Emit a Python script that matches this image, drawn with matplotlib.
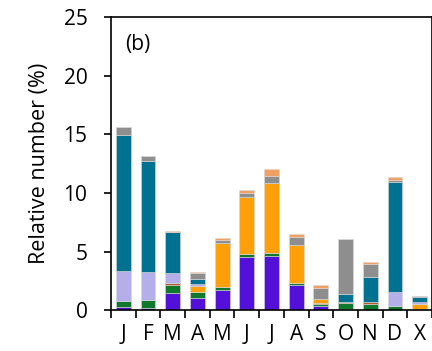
import numpy as np
import matplotlib.pyplot as plt

plt.rcParams['font.family'] = ['Open Sans', 'DejaVu Sans']

# Monthly relative numbers (%) per type, stacked bottom to top
months = ["J", "F", "M", "A", "M", "J", "J", "A", "S", "O", "N", "D", "X"]
purple = [0.34, 0.20, 1.50, 1.10, 1.74, 4.52, 4.63, 2.17, 0.35, 0.10, 0.00, 0.00, 0.00]
green = [0.50, 0.70, 0.65, 0.45, 0.28, 0.25, 0.23, 0.20, 0.20, 0.50, 0.57, 0.37, 0.08]
brown = [0.00, 0.00, 0.15, 0.00, 0.00, 0.00, 0.00, 0.00, 0.12, 0.12, 0.14, 0.00, 0.08]
orange = [0.00, 0.00, 0.00, 0.55, 3.69, 4.90, 6.04, 3.20, 0.30, 0.00, 0.00, 0.00, 0.37]
lavender = [2.50, 2.40, 0.90, 0.12, 0.00, 0.00, 0.00, 0.00, 0.00, 0.00, 0.00, 1.19, 0.20]
teal = [11.60, 9.40, 3.45, 0.45, 0.00, 0.00, 0.00, 0.00, 0.00, 0.70, 2.13, 9.35, 0.45]
gray = [0.65, 0.50, 0.00, 0.55, 0.28, 0.34, 0.57, 0.65, 0.93, 4.65, 1.08, 0.20, 0.05]
peach = [0.00, 0.00, 0.15, 0.05, 0.15, 0.28, 0.57, 0.28, 0.23, 0.05, 0.20, 0.28, 0.00]

series = [purple, green, brown, orange, lavender, teal, gray, peach]
colors = ["#5210D8", "#10782C", "#B0582A", "#FFA00A", "#B4AEEA",
          "#007190", "#8E8E8E", "#F0A060"]

fig = plt.figure(figsize=(4.32, 3.51), dpi=100)
ax = fig.add_axes([0.257, 0.1154, 0.743, 0.8362])

x = np.arange(len(months))
bottom = np.zeros(len(months))
for vals, c in zip(series, colors):
    vals = np.array(vals)
    ax.bar(x, vals, width=0.6, bottom=bottom, color=c,
           edgecolor="#d8d8d8", linewidth=0.4)
    bottom += vals

ax.set_xlim(-0.5, len(months) - 0.5)
ax.set_ylim(0, 25)
ax.set_yticks(range(0, 26, 5))
ax.set_xticks(np.arange(-0.5, len(months), 1.0))
ax.set_xticklabels([])
ax.set_xticks(x, minor=True)
ax.set_xticklabels(months, minor=True)
ax.tick_params(axis="x", which="major", direction="out", length=6, width=1.2)
ax.tick_params(axis="x", which="minor", length=0, labelsize=15, pad=10)
ax.tick_params(axis="y", direction="out", length=5, width=1.2, labelsize=15, pad=12)
for s in ax.spines.values():
    s.set_linewidth(1.2)

ax.set_ylabel("Relative number (%)", fontsize=15.5, labelpad=10)
ax.text(0.045, 0.905, "(b)", transform=ax.transAxes, fontsize=15,
        ha="left", va="center")

fig.savefig("out.png", dpi=100)
